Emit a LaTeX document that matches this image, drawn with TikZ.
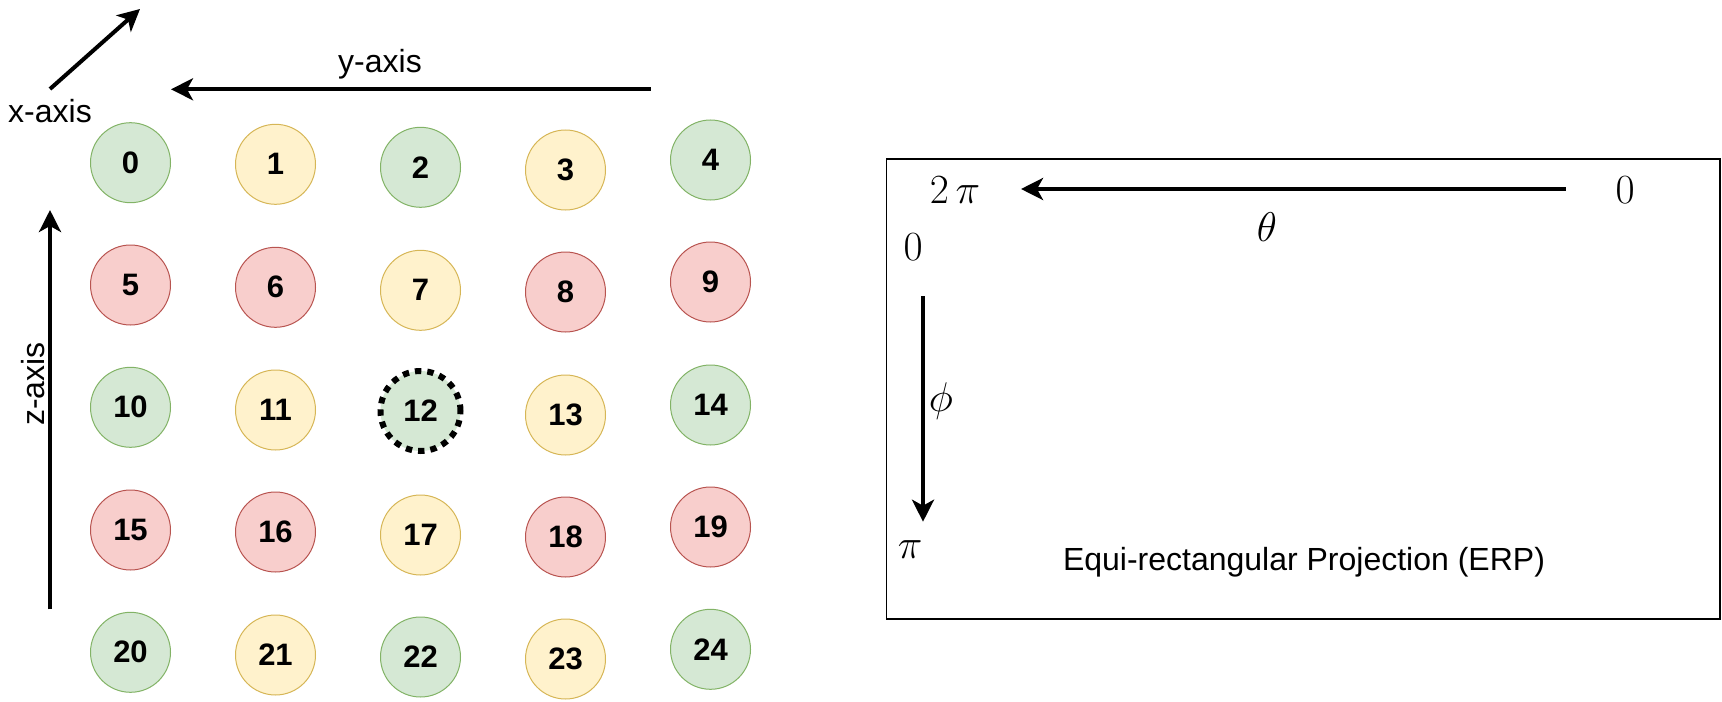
\documentclass[tikz,border=0pt]{standalone}
\usepackage{fontspec}
\setmainfont{Liberation Sans}
\definecolor{cgreen}{RGB}{213,232,212}
\definecolor{cgreenline}{RGB}{130,179,102}
\definecolor{cyellow}{RGB}{255,242,204}
\definecolor{cyellowline}{RGB}{214,182,86}
\definecolor{cred}{RGB}{248,206,204}
\definecolor{credline}{RGB}{184,84,80}
\usetikzlibrary{arrows.meta}

\begin{document}
\begin{tikzpicture}[x=0.5pt, y=-0.5pt,
  lbl/.style={font=\fontsize{16}{19}\selectfont, inner sep=0pt},
  mth/.style={font=\fontsize{20}{24}\selectfont, inner sep=0pt},
  cell/.style={circle, minimum size=40pt, inner sep=0pt, line width=0.5pt,
               font=\bfseries\fontsize{15.5}{18}\selectfont},
  gcell/.style={cell, fill=cgreen, draw=cgreenline},
  ycell/.style={cell, fill=cyellow, draw=cyellowline},
  rcell/.style={cell, fill=cred, draw=credline},
  axis/.style={-{Stealth[length=11pt, width=11pt, inset=3pt]}, line width=2pt}]
  \useasboundingbox (0,0) rectangle (1722,701);

  % Grid of cells, row by row
  \node[gcell] (c0) at (130.5,162.7) {0};
  \node[ycell] (c1) at (275.5,164.3) {1};
  \node[gcell] (c2) at (420.5,167.3) {2};
  \node[ycell] (c3) at (565.5,170) {3};
  \node[gcell] (c4) at (710.5,160) {4};

  \node[rcell] (c5) at (130.5,285) {5};
  \node[rcell] (c6) at (275.5,287.3) {6};
  \node[ycell] (c7) at (420.5,290.3) {7};
  \node[rcell] (c8) at (565.5,292) {8};
  \node[rcell] (c9) at (710.5,282) {9};

  \node[gcell] (c10) at (130.5,407.3) {10};
  \node[ycell] (c11) at (275.5,410) {11};
  \node[gcell, draw=black, line width=3pt, dash pattern=on 3.2pt off 3pt]
    (c12) at (420.5,411) {12};
  \node[ycell] (c13) at (565.5,415) {13};
  \node[gcell] (c14) at (710.5,405) {14};

  \node[rcell] (c15) at (130.5,530) {15};
  \node[rcell] (c16) at (275.5,532) {16};
  \node[ycell] (c17) at (420.5,535) {17};
  \node[rcell] (c18) at (565.5,537) {18};
  \node[rcell] (c19) at (710.5,527) {19};

  \node[gcell] (c20) at (130.5,652.3) {20};
  \node[ycell] (c21) at (275.5,655) {21};
  \node[gcell] (c22) at (420.5,657) {22};
  \node[ycell] (c23) at (565.5,659) {23};
  \node[gcell] (c24) at (710.5,649.3) {24};

  % Axes of the grid
  \coordinate (xfrom) at (50,89);
  \coordinate (xto) at (140,9);
  \coordinate (yfrom) at (650.5,89.3);
  \coordinate (yto) at (171,89.3);
  \coordinate (zfrom) at (50,609.3);
  \coordinate (zto) at (50,210);
  \draw[axis] (xfrom) -- (xto);
  \draw[axis] (yfrom) -- (yto);
  \draw[axis] (zfrom) -- (zto);
  \node[lbl, anchor=base] (xlab) at (50,122.7) {x-axis};
  \node[lbl, anchor=base] (ylab) at (380,73) {y-axis};
  \node[lbl, rotate=90, anchor=base] (zlab) at (44,384) {z-axis};

  % ERP frame
  \draw[line width=0.75pt] (886.5,159) rectangle (1720,619);
  \coordinate (tfrom) at (1565.5,189);
  \coordinate (tto) at (1021,189);
  \coordinate (pfrom) at (923,296);
  \coordinate (pto) at (923,521.7);
  \draw[axis] (tfrom) -- (tto);
  \draw[axis] (pfrom) -- (pto);
  \node[mth, anchor=base] (twopi) at (955,203.3) {$2\,\pi$};
  \node[mth, anchor=base] (tzero) at (1625,203.3) {$0$};
  \node[mth, anchor=base] (theta) at (1267,241.7) {$\theta$};
  \node[mth, anchor=base] (pzero) at (913,260) {$0$};
  \node[mth, anchor=base] (phi) at (941,411) {$\phi$};
  \node[mth, anchor=base] (pi) at (910,558.3) {$\pi$};
  \node[lbl, anchor=base] (erp) at (1304,570) {Equi-rectangular Projection (ERP)};
\end{tikzpicture}
\end{document}
